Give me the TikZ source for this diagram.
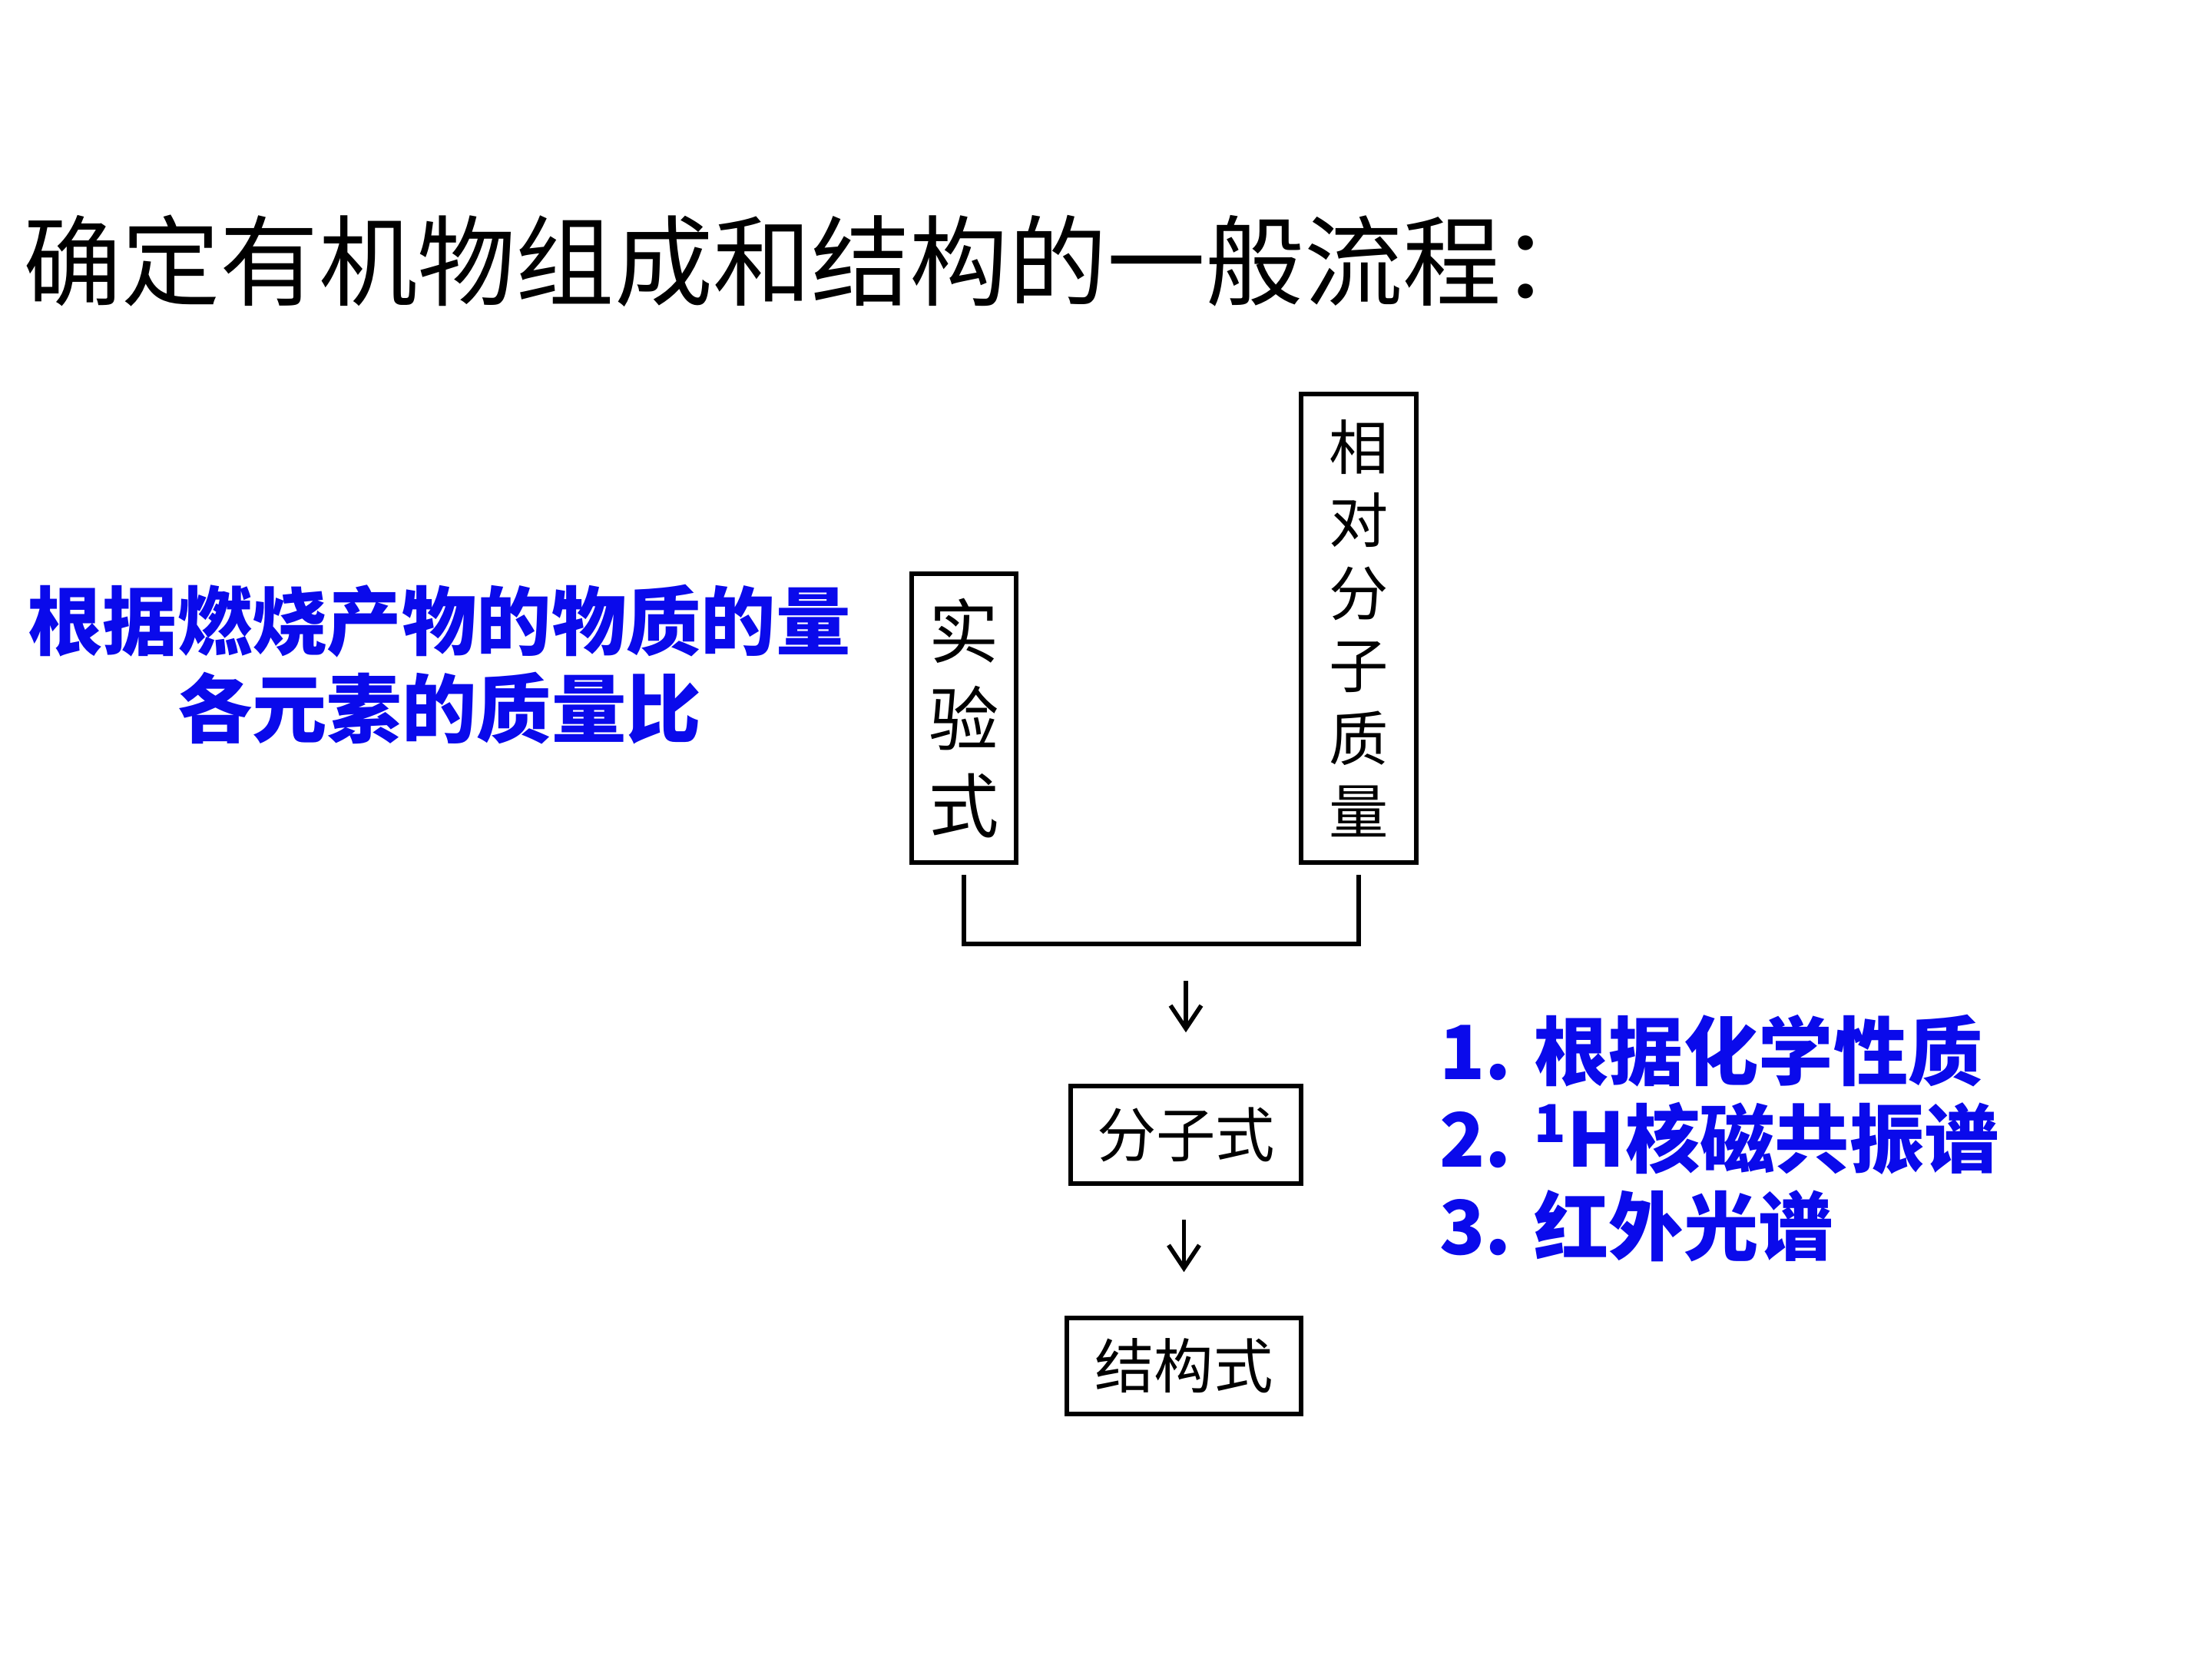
\documentclass[tikz,border=0pt]{standalone}
\usepackage{fontspec}
\newfontfamily\cjk{Noto Sans CJK SC}
\usetikzlibrary{arrows.meta,positioning}
\definecolor{lanse}{RGB}{10,10,235}

\begin{document}
\begin{tikzpicture}[
  kuang/.style={draw, line width=1.6pt, inner sep=0pt, align=center},
  jiantou/.style={line width=1.6pt, -{Straight Barb[length=3mm,width=4mm]}},
  lan/.style={text=lanse, font=\cjk\bfseries\fontsize{27.7}{32.4}\selectfont}
]
\useasboundingbox (0,0) rectangle (28.8,21.6);

% title line
\node[anchor=west, font=\cjk\fontsize{36.5}{40}\selectfont] (biaoti) at (0.18,18.2) {确定有机物组成和结构的一般流程：};

% left note, in blue
\node[lan, align=center] (ranshao) at (5.72,12.95) {根据燃烧产物的物质的量\\各元素的质量比};

% the two tall boxes
\node[kuang, anchor=south, minimum width=1.36cm, minimum height=3.76cm,
      font=\cjk\fontsize{26}{32.4}\selectfont] (syy) at (12.55,10.34) {实\\验\\式};
\node[kuang, anchor=south, minimum width=1.5cm, minimum height=6.1cm,
      font=\cjk\fontsize{22}{27}\selectfont] (xdfz) at (17.69,10.34) {相\\对\\分\\子\\质\\量};

% joining line under both boxes
\coordinate (hui) at (15.1,9.31);
\draw[line width=1.6pt] ([yshift=-1.3mm]syy.south) |- (hui) -| ([yshift=-1.3mm]xdfz.south);

% formula boxes and arrows
\node[kuang, minimum width=3.0cm, minimum height=1.27cm,
      font=\cjk\fontsize{22}{26}\selectfont] (fzs) at (15.44,6.825) {分子式};
\node[kuang, minimum width=3.05cm, minimum height=1.25cm,
      font=\cjk\fontsize{22}{26}\selectfont] (jgs) at (15.415,3.815) {结构式};
\draw[jiantou] ([yshift=1.34cm]fzs.north) -- ([yshift=0.67cm]fzs.north);
\draw[jiantou] ([yshift=1.25cm]jgs.north) -- ([yshift=0.57cm]jgs.north);

% right note, in blue
\node[lan, align=left, anchor=west] (fangfa) at (18.62,6.78)
  {1. 根据化学性质\\2. \textsuperscript{1}H核磁共振谱\\3. 红外光谱};
\end{tikzpicture}
\end{document}
